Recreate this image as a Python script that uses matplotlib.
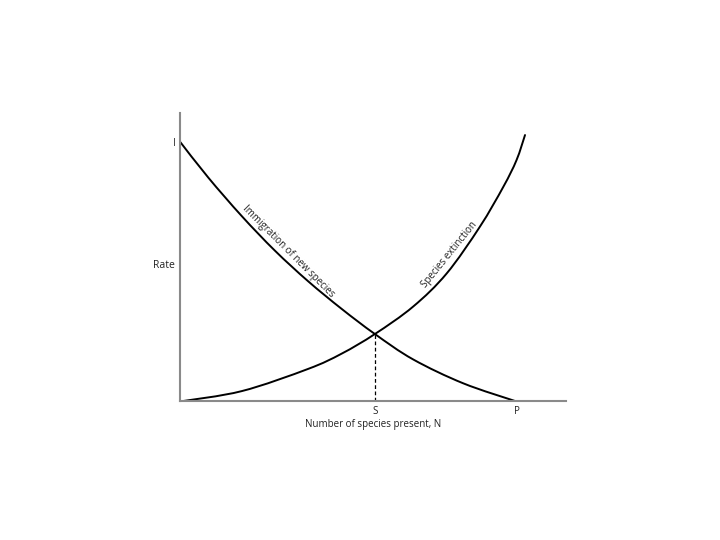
import matplotlib.pyplot as plt
from matplotlib.path import Path
from matplotlib.patches import PathPatch

plt.rcParams['font.family'] = ['Open Sans', 'DejaVu Sans']

# immigration rate vs number of species present
immig_x = [0, 7.3, 16.0, 24.6, 33.2, 41.9, 50.5, 60.4, 73.4, 87.2]
immig_y = [90.1, 77.7, 64.3, 52.3, 41.7, 32.1, 23.4, 14.6, 6.3, 0]

# extinction rate vs number of species present
ext_x = [0, 16.0, 33.2, 41.9, 50.5, 60.4, 69.1, 77.7, 83.8, 87.2, 89.4]
ext_y = [0, 3.6, 11.3, 16.6, 23.4, 32.9, 44.4, 60.6, 74.5, 83.7, 92.4]

S = 50.5    # equilibrium number of species
S_rate = 23.4
P = 87.2    # species pool
I = 90.1    # max immigration rate


def smooth_path(xs, ys):
    # cubic bezier through the read points (catmull-rom style handles)
    pts = list(zip(xs, ys))
    n = len(pts)
    verts = [pts[0]]
    codes = [Path.MOVETO]
    for i in range(n - 1):
        p0 = pts[max(i - 1, 0)]
        p1 = pts[i]
        p2 = pts[i + 1]
        p3 = pts[min(i + 2, n - 1)]
        c1 = (p1[0] + (p2[0] - p0[0]) / 6, p1[1] + (p2[1] - p0[1]) / 6)
        c2 = (p2[0] - (p3[0] - p1[0]) / 6, p2[1] - (p3[1] - p1[1]) / 6)
        verts += [c1, c2, p2]
        codes += [Path.CURVE4] * 3
    return Path(verts, codes)


fig = plt.figure(figsize=(7.2, 5.4), dpi=100)
ax = fig.add_axes([0.25, 0.2565, 0.536, 0.534])

for xs, ys in [(immig_x, immig_y), (ext_x, ext_y)]:
    ax.add_patch(PathPatch(smooth_path(xs, ys), fill=False, edgecolor='black',
                           lw=1.4, capstyle='round'))
ax.plot([S, S], [0, S_rate], color='black', lw=0.9, ls=(0, (3, 2)))

ax.set_xlim(0, 100)
ax.set_ylim(0, 100)
for side in ['top', 'right']:
    ax.spines[side].set_visible(False)
for side in ['left', 'bottom']:
    ax.spines[side].set_color('#8a8a8a')
    ax.spines[side].set_linewidth(1.5)

ax.set_xticks([S, P])
ax.set_xticklabels(['S', 'P'])
ax.set_yticks([I])
ax.set_yticklabels(['I'])
ax.tick_params(length=0, labelsize=7, colors='#222222', pad=3)

ax.set_xlabel('Number of species present, N', fontsize=7, color='#222222', labelpad=2)
ax.text(-1.2, 47.3, 'Rate', fontsize=7.5, ha='right', va='center', color='#222222')

ax.text(28.0, 51.9, 'Immigration of new species', fontsize=7, rotation=-45,
        ha='center', va='center', rotation_mode='anchor', color='#222222')
ax.text(69.8, 51.0, 'Species extinction', fontsize=7, rotation=51,
        ha='center', va='center', rotation_mode='anchor', color='#222222')

fig.savefig('out.png', dpi=100)
